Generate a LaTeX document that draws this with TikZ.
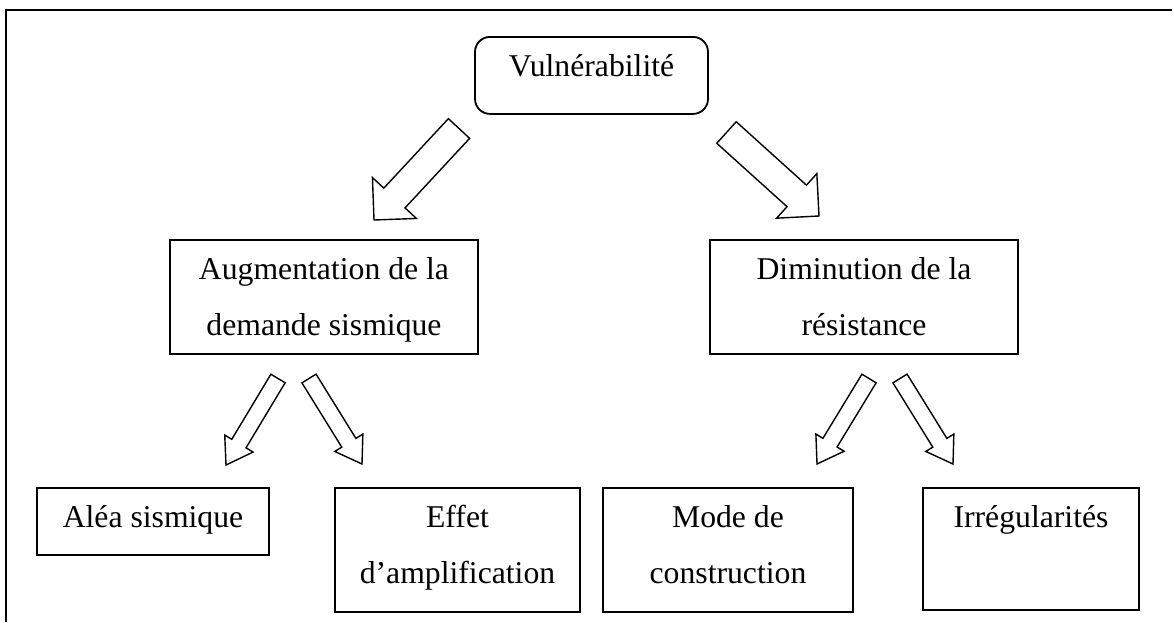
\documentclass[tikz,border=0pt]{standalone}
\usepackage{fontspec}
\setmainfont{Liberation Serif}
\usetikzlibrary{calc}

% hollow block arrow: name, tail centre, tip, half shaft width, half head width, head length
\newcommand\hollowarrow[6]{%
  \coordinate (#1-base) at ($(#3)!#6!(#2)$);
  \draw[hollow] ($(#2)!#4!90:(#3)$) -- ($(#1-base)!#4!90:(#3)$)
    -- ($(#1-base)!#5!90:(#3)$) -- (#3) -- ($(#1-base)!#5!-90:(#3)$)
    -- ($(#1-base)!#4!-90:(#3)$) -- ($(#2)!#4!-90:(#3)$) -- cycle;
}

\begin{document}
\begin{tikzpicture}[x=1pt,y=-1pt,
  every node/.style={font=\fontsize{31.7}{56}\selectfont},
  box/.style={draw, line width=1.8pt, inner sep=0pt, align=center,
    anchor=north, text height=40pt},
  twoline/.style={text height=96pt},
  hollow/.style={draw, line width=1.4pt, line join=miter, fill=white},
  frame/.style={line width=1.8pt}]

\useasboundingbox (0,0) rectangle (1174,622);
\fill[white] (0,0) rectangle (1174,622);

% open frame: top and left sides only
\draw[frame] (6,622) -- (6,10) -- (1172,10);

% boxes (first baseline 40pt below the top edge)
\node[box, rounded corners=15pt, minimum width=233pt, text depth=37pt] (vul) at (591.5,36) {Vulnérabilité};
\node[box, twoline, minimum width=308pt, text depth=18pt] (aug) at (324,239) {Augmentation de la\\demande sismique};
\node[box, twoline, minimum width=308pt, text depth=18pt] (dim) at (864,239) {Diminution de la\\résistance};
\node[box, minimum width=232pt, text depth=27pt] (alea) at (153,487) {Aléa sismique};
\node[box, twoline, minimum width=245pt, text depth=28pt] (effet) at (457.5,487) {Effet\\d’amplification};
\node[box, twoline, minimum width=250pt, text depth=28pt] (mode) at (728,487) {Mode de\\construction};
\node[box, minimum width=216pt, text depth=82pt] (irr) at (1031,487) {Irrégularités};

% arrow ends
\coordinate (a1t) at (459,128.5);  \coordinate (a1p) at (374,220);
\coordinate (a2t) at (726.5,132.5); \coordinate (a2p) at (819,216);
\coordinate (b1t) at (278,378.5);  \coordinate (b1p) at (226,465);
\coordinate (b2t) at (309,378.5);  \coordinate (b2p) at (362,464);
\coordinate (b3t) at (869,378.5);  \coordinate (b3p) at (817,464);
\coordinate (b4t) at (900,378.5);  \coordinate (b4p) at (953,464);

\hollowarrow{a1}{a1t}{a1p}{14.5pt}{30pt}{30pt}
\hollowarrow{a2}{a2t}{a2p}{14.5pt}{30pt}{30pt}
\hollowarrow{b1}{b1t}{b1p}{8.3pt}{16.5pt}{25pt}
\hollowarrow{b2}{b2t}{b2p}{8.3pt}{16.5pt}{25pt}
\hollowarrow{b3}{b3t}{b3p}{8.3pt}{16.5pt}{25pt}
\hollowarrow{b4}{b4t}{b4p}{8.3pt}{16.5pt}{25pt}

\end{tikzpicture}
\end{document}
